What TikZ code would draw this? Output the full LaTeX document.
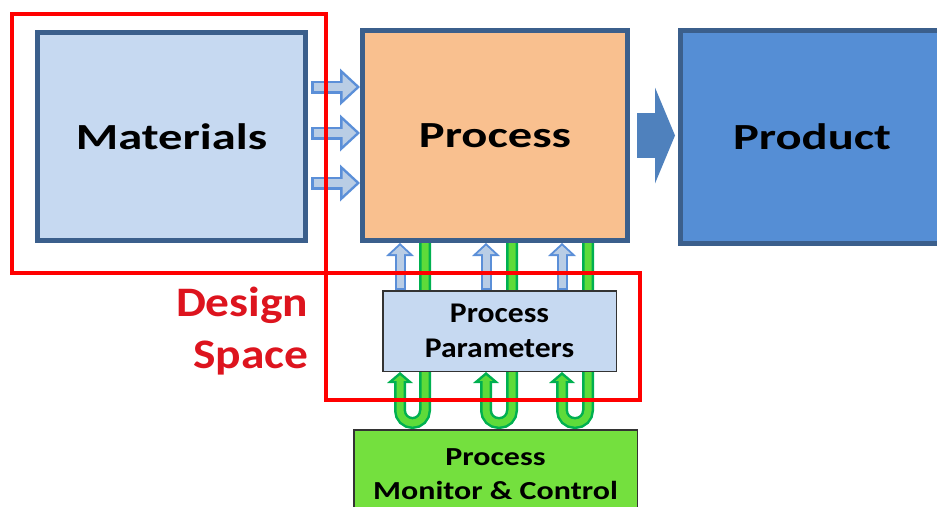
\documentclass[tikz,border=0pt]{standalone}
\usepackage{fontspec}
\setmainfont{Carlito}
\newfontfamily\bigfont[FakeStretch=1.32]{Carlito}
\newfontfamily\parfont[FakeStretch=1.11]{Carlito}
\newfontfamily\monfont[FakeStretch=1.23]{Carlito}
\newfontfamily\dsfont[FakeStretch=1.13]{Carlito}
\usetikzlibrary{arrows.meta,backgrounds,calc}
\definecolor{boxedge}{HTML}{3B5F8C}
\definecolor{matfill}{HTML}{C6D9F1}
\definecolor{procfill}{HTML}{F9C08F}
\definecolor{prodfill}{HTML}{558ED5}
\definecolor{bigarrow}{HTML}{4F81BD}
\definecolor{arredge}{HTML}{5B8FD8}
\definecolor{arrfill}{HTML}{B9CDE5}
\definecolor{loopedge}{HTML}{00B050}
\definecolor{loopfill}{HTML}{5EDB3A}
\definecolor{monfill}{HTML}{74E03E}
\definecolor{dsred}{HTML}{DD141E}
\tikzset{
  mainbox/.style={draw=boxedge,line width=5pt,font=\bigfont\bfseries\fontsize{36.8}{40}\selectfont},
  smallbox/.style={draw=black!80,line width=1.5pt,align=center},
  rightout/.style={draw=arredge,line width=13pt,-{Triangle[width=37pt,length=20pt,line width=0pt]}},
  rightin/.style={draw=arrfill,line width=8pt,shorten <=2.5pt,shorten >=3.7pt,-{Triangle[width=25.5pt,length=13.8pt,line width=0pt]}},
  upout/.style={draw=arredge,line width=11pt,-{Triangle[width=28pt,length=13pt,line width=0pt]}},
  upin/.style={draw=arrfill,line width=7pt,shorten <=2pt,shorten >=2.7pt,-{Triangle[width=18pt,length=8.3pt,line width=0pt]}},
  loopout/.style={draw=loopedge,line width=12pt,rounded corners=12.5pt,-{Triangle[width=26pt,length=11pt,line width=0pt]}},
  loopin/.style={draw=loopfill,line width=7pt,rounded corners=12.5pt,shorten >=3.3pt,-{Triangle[width=13pt,length=5.5pt,line width=0pt]}},
  region/.style={draw=red,line width=4pt}
}
\begin{document}
\begin{tikzpicture}[x=1pt,y=-1pt]
  \useasboundingbox (0,0) rectangle (937,506);
  \node[mainbox,fill=matfill,minimum width=268pt,minimum height=208pt] (mat) at (171.5,136.5) {Materials};
  \node[mainbox,fill=procfill,minimum width=265pt,minimum height=210pt] (proc) at (495,135.5) {Process};
  \node[mainbox,fill=prodfill,minimum width=263pt,minimum height=213pt] (prod) at (812,137) {Product};
  \node[smallbox,fill=matfill,minimum width=233.5pt,minimum height=80.5pt,font=\parfont\bfseries\fontsize{28.5}{35}\selectfont] (par) at (499.5,331) {Process\\Parameters};
  \node[smallbox,fill=monfill,minimum width=283.5pt,minimum height=88.5pt,font=\monfont\bfseries\fontsize{26}{34}\selectfont] (mon) at (495.5,474) {Process\\Monitor \& Control};
  \node[anchor=east,align=right,text=dsred,font=\dsfont\bfseries\fontsize{42}{52}\selectfont] (ds) at (312,331) {Design\\Space};
  \foreach \dy in {49.5,3.5,-46.5}{
    \draw[rightout] ([yshift=\dy pt,xshift=3pt]mat.east) -- ([yshift=\dy pt]mat.east -| proc.west);
    \draw[rightin] ([yshift=\dy pt,xshift=3pt]mat.east) -- ([yshift=\dy pt]mat.east -| proc.west);
  }
  \draw[bigarrow,line width=45pt,shorten <=7pt,shorten >=3pt,-{Triangle[width=96pt,length=20pt,line width=0pt]}] (proc.east) -- (proc.east -| prod.west);
  \foreach \xa in {400,486,562}{
    \draw[upout] (\xa,0 |- par.north) -- (\xa,0 |- proc.south);
    \draw[upin] (\xa,0 |- par.north) -- (\xa,0 |- proc.south);
  }
  \begin{scope}[on background layer]
    \foreach \xa/\xb in {400/425,486/512,562/588}{
      \draw[loopout] (\xb,0 |- proc.south) -- ($(\xb,0 |- mon.north)+(0,-6)$) -- ($(\xa,0 |- mon.north)+(0,-6)$) -- (\xa,0 |- par.south);
      \draw[loopin] (\xb,0 |- proc.south) -- ($(\xb,0 |- mon.north)+(0,-6)$) -- ($(\xa,0 |- mon.north)+(0,-6)$) -- (\xa,0 |- par.south);
    }
  \end{scope}
  \draw[region] (12,14) rectangle (326,273);
  \draw[region] (326,273) rectangle (640,400);
\end{tikzpicture}
\end{document}
